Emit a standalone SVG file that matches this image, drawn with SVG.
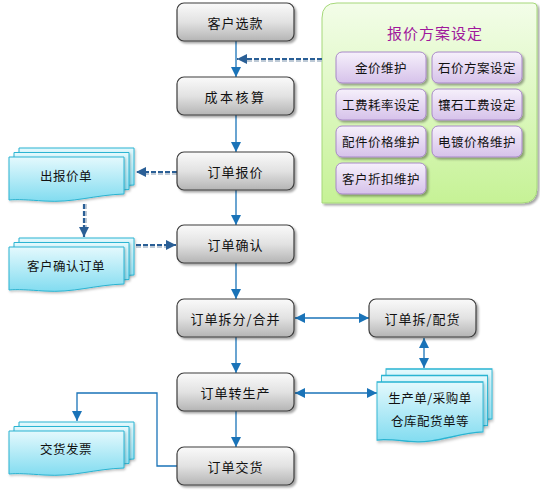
<svg xmlns="http://www.w3.org/2000/svg" width="540" height="495" viewBox="0 0 540 495">
<defs>
<linearGradient id="gGray" x1="0" y1="0" x2="0" y2="1">
<stop offset="0" stop-color="#fafafa"/><stop offset="0.5" stop-color="#e2e2e2"/><stop offset="1" stop-color="#b4b4b4"/>
</linearGradient>
<linearGradient id="gPurple" x1="0" y1="0" x2="0" y2="1">
<stop offset="0" stop-color="#f6f0fb"/><stop offset="1" stop-color="#d6c2ea"/>
</linearGradient>
<linearGradient id="gGreen" x1="0" y1="0" x2="0" y2="1">
<stop offset="0" stop-color="#f3fde9"/><stop offset="1" stop-color="#c6f296"/>
</linearGradient>
<linearGradient id="gCyan" x1="0" y1="0" x2="0" y2="1">
<stop offset="0" stop-color="#e4f9fd"/><stop offset="1" stop-color="#82dcf0"/>
</linearGradient>
<filter id="sh" x="-10%" y="-10%" width="125%" height="130%">
<feDropShadow dx="2" dy="2" stdDeviation="1.2" flood-color="#000" flood-opacity="0.35"/>
</filter>
<filter id="shs" x="-10%" y="-10%" width="125%" height="130%">
<feDropShadow dx="1" dy="1.5" stdDeviation="1" flood-color="#000" flood-opacity="0.25"/>
</filter>
<marker id="ah" viewBox="0 0 10 10" refX="10" refY="5" markerWidth="10" markerHeight="10" markerUnits="userSpaceOnUse" orient="auto-start-reverse">
<path d="M0,0 L10,5 L0,10 Z" fill="#1a73b8"/>
</marker>
<marker id="ahd" viewBox="0 0 10 10" refX="10" refY="5" markerWidth="10" markerHeight="10" markerUnits="userSpaceOnUse" orient="auto">
<path d="M0,0 L10,5 L0,10 Z" fill="#2a5f96"/>
</marker>
<path id="doc" d="M0,0 H115 V37 C85,38 65,46 35,44 C20,43 8,42 0,43 Z"/>
</defs>
<style>
.box{fill:url(#gGray);stroke:#3c3c3c;stroke-width:1.2;filter:url(#sh)}
.btn{fill:url(#gPurple);stroke:#a888c8;stroke-width:1;filter:url(#sh)}
.page{fill:url(#gCyan);stroke:#2ab4d2;stroke-width:1;filter:url(#shs)}
.t{font-family:"Noto Sans CJK SC","Noto Sans",sans-serif;font-size:13px;fill:#111;text-anchor:middle;dominant-baseline:central;letter-spacing:1px}
.tb{font-size:12.5px;letter-spacing:0.5px}
.ln{fill:none;stroke:#1a73b8;stroke-width:1.3}
.dash{fill:none;stroke:#2a5f96;stroke-width:2.2;stroke-dasharray:5,2}
.dash2{fill:none;stroke:#a9b9c9;stroke-width:1.5;stroke-dasharray:5,2}
</style>

<g id="panel">
<path d="M337,3 H533 Q537,3 537,7 V188 Q537,203 522,203 H322 V18 Q322,3 337,3 Z" fill="url(#gGreen)" stroke="#a6d87a" stroke-width="1" filter="url(#sh)"/>
<text x="435" y="32" class="t" style="font-size:15px;fill:#a0189c">报价方案设定</text>
</g>
<g id="btn1"><rect x="336" y="52" width="90" height="31" rx="6" class="btn"/><text x="381" y="67.5" class="t tb">金价维护</text></g>
<g id="btn2"><rect x="432" y="52" width="90" height="31" rx="6" class="btn"/><text x="477" y="67.5" class="t tb">石价方案设定</text></g>
<g id="btn3"><rect x="336" y="89" width="90" height="31" rx="6" class="btn"/><text x="381" y="104.5" class="t tb">工费耗率设定</text></g>
<g id="btn4"><rect x="432" y="89" width="90" height="31" rx="6" class="btn"/><text x="477" y="104.5" class="t tb">镶石工费设定</text></g>
<g id="btn5"><rect x="336" y="126" width="90" height="31" rx="6" class="btn"/><text x="381" y="141.5" class="t tb">配件价格维护</text></g>
<g id="btn6"><rect x="432" y="126" width="90" height="31" rx="6" class="btn"/><text x="477" y="141.5" class="t tb">电镀价格维护</text></g>
<g id="btn7"><rect x="336" y="163" width="90" height="31" rx="6" class="btn"/><text x="381" y="178.5" class="t tb">客户折扣维护</text></g>

<g id="connectors">
<line x1="236" y1="41" x2="236" y2="77" class="ln" marker-end="url(#ah)"/>
<line x1="236" y1="115" x2="236" y2="152" class="ln" marker-end="url(#ah)"/>
<line x1="236" y1="190" x2="236" y2="225" class="ln" marker-end="url(#ah)"/>
<line x1="236" y1="263" x2="236" y2="299" class="ln" marker-end="url(#ah)"/>
<line x1="236" y1="337" x2="236" y2="373" class="ln" marker-end="url(#ah)"/>
<line x1="236" y1="411" x2="236" y2="447" class="ln" marker-end="url(#ah)"/>
<line x1="295" y1="318" x2="369" y2="318" class="ln" marker-start="url(#ah)" marker-end="url(#ah)"/>
<line x1="295" y1="393" x2="377" y2="393" class="ln" marker-start="url(#ah)" marker-end="url(#ah)"/>
<line x1="424" y1="338" x2="424" y2="368" class="ln" marker-start="url(#ah)" marker-end="url(#ah)"/>
<polyline points="177,466 157,466 157,393 77,393 77,421" class="ln" marker-end="url(#ah)"/>
<line x1="322" y1="61" x2="247" y2="61" class="dash2"/>
<line x1="322" y1="59" x2="237" y2="59" class="dash" marker-end="url(#ahd)"/>
<line x1="177" y1="174" x2="146" y2="174" class="dash2"/>
<line x1="177" y1="172" x2="136" y2="172" class="dash" marker-end="url(#ahd)"/>
<line x1="86" y1="204" x2="86" y2="228" class="dash2"/>
<line x1="84" y1="204" x2="84" y2="237" class="dash" marker-end="url(#ahd)"/>
<line x1="136" y1="247" x2="166" y2="247" class="dash2"/>
<line x1="136" y1="245" x2="176" y2="245" class="dash" marker-end="url(#ahd)"/>
</g>

<g id="n1"><rect x="177" y="3" width="117" height="38" rx="7" class="box"/><text x="235.5" y="22" class="t">客户选款</text></g>
<g id="n2"><rect x="177" y="77" width="117" height="38" rx="7" class="box"/><text x="235.5" y="96" class="t" style="letter-spacing:2.5px">成本核算</text></g>
<g id="n3"><rect x="177" y="152" width="117" height="38" rx="7" class="box"/><text x="235.5" y="171" class="t">订单报价</text></g>
<g id="n4"><rect x="177" y="225" width="117" height="38" rx="7" class="box"/><text x="235.5" y="244" class="t">订单确认</text></g>
<g id="n5"><rect x="177" y="299" width="117" height="38" rx="7" class="box"/><text x="235.5" y="318" class="t">订单拆分/合并</text></g>
<g id="n6"><rect x="177" y="373" width="117" height="38" rx="7" class="box"/><text x="235.5" y="392" class="t">订单转生产</text></g>
<g id="n7"><rect x="177" y="447" width="117" height="38" rx="7" class="box"/><text x="235.5" y="466" class="t">订单交货</text></g>
<g id="n8"><rect x="369" y="299" width="107" height="38" rx="7" class="box"/><text x="422.5" y="318" class="t">订单拆/配货</text></g>

<g id="d1">
<use href="#doc" class="page" transform="translate(19,148)"/>
<use href="#doc" class="page" transform="translate(14,152.5)"/>
<use href="#doc" class="page" transform="translate(9,157)"/>
<text x="66" y="175" class="t tb">出报价单</text>
</g>
<g id="d2">
<use href="#doc" class="page" transform="translate(19,238)"/>
<use href="#doc" class="page" transform="translate(14,242.5)"/>
<use href="#doc" class="page" transform="translate(9,247)"/>
<text x="66" y="265" class="t tb">客户确认订单</text>
</g>
<g id="d3">
<use href="#doc" class="page" transform="translate(19,422)"/>
<use href="#doc" class="page" transform="translate(14,426.5)"/>
<use href="#doc" class="page" transform="translate(9,431)"/>
<text x="66" y="448" class="t tb">交货发票</text>
</g>
<g id="d4">
<use href="#doc" class="page" transform="translate(386,369) scale(0.922,1.35)"/>
<use href="#doc" class="page" transform="translate(381.5,375.5) scale(0.922,1.35)"/>
<use href="#doc" class="page" transform="translate(377,382) scale(0.922,1.35)"/>
<text x="430" y="397" class="t tb">生产单/采购单</text>
<text x="430" y="420" class="t tb">仓库配货单等</text>
</g>
</svg>
